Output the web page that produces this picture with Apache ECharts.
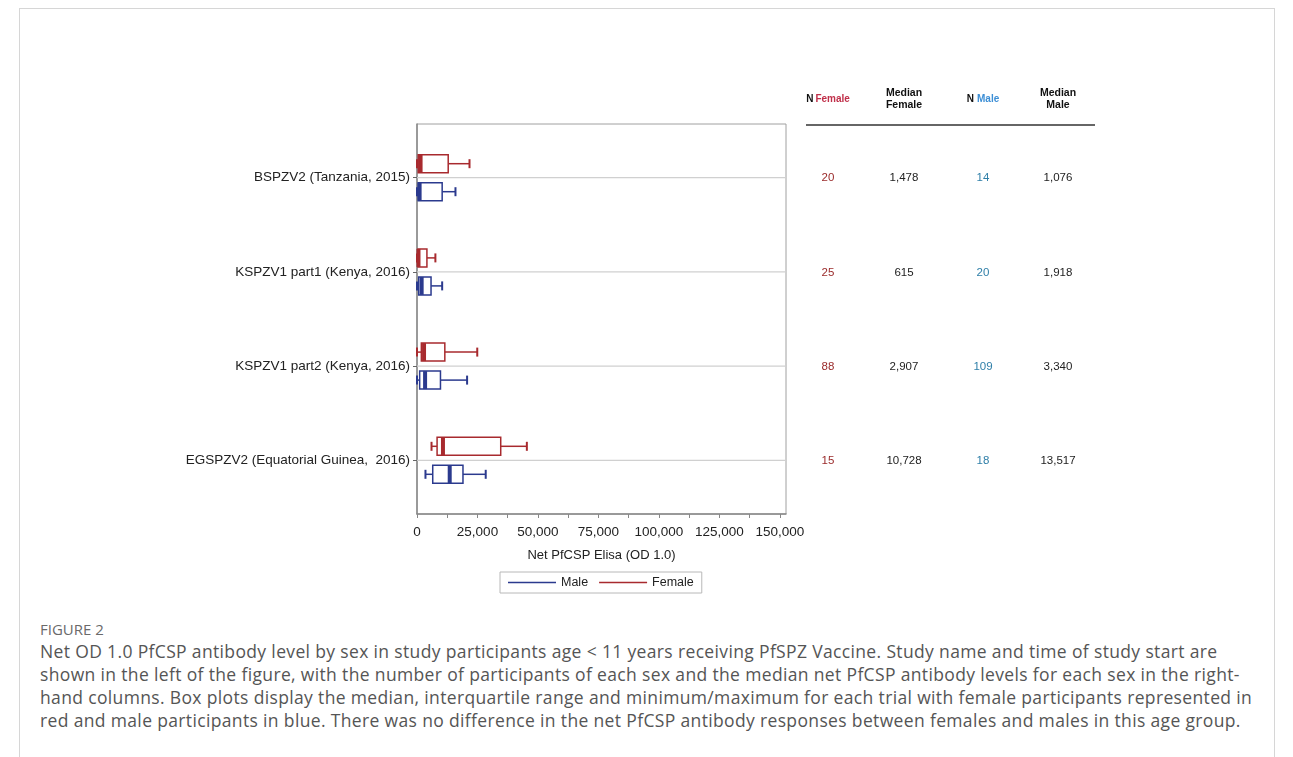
<!DOCTYPE html>
<html><head><meta charset="utf-8">
<script src="https://cdn.jsdelivr.net/npm/echarts@6/dist/echarts.min.js"></script>
<style>
html,body{margin:0;padding:0;background:#fff;width:1293px;height:757px;overflow:hidden;position:relative;}
#frame{position:absolute;left:19px;top:8px;width:1254px;height:800px;border:1px solid #d6d6d6;border-bottom:none;}
#chart{position:absolute;left:0;top:0;width:1293px;height:600px;}
.cap{position:absolute;left:40px;font-family:"Open Sans",sans-serif;color:#555;white-space:nowrap;}
</style></head><body>
<div id="frame"></div>
<div id="chart"></div>
<div class="cap" style="top:619px;font-size:15px;line-height:20px;color:#6a6a6a;">FIGURE 2</div>
<div class="cap" id="caption" style="top:640px;font-size:17.5px;line-height:23px;letter-spacing:0.35px;"></div>
<script>
const categories = ['BSPZV2 (Tanzania, 2015)', 'KSPZV1 part1 (Kenya, 2016)', 'KSPZV1 part2 (Kenya, 2016)', 'EGSPZV2 (Equatorial Guinea,  2016)'];
// [min, q1, median, q3, max]
const femaleBoxes = [[0, 500, 1478, 12900, 21700], [0, 400, 615, 4100, 7600], [0, 1800, 2907, 11500, 24900], [6000, 8300, 10728, 34600, 45400]];
const maleBoxes = [[0, 500, 1076, 10400, 15900], [0, 700, 1918, 5800, 10400], [0, 1100, 3340, 9700, 20700], [3500, 6500, 13517, 19000, 28400]];
const nFemale = [20, 25, 88, 15];
const medianFemale = [1478, 615, 2907, 10728];
const nMale = [14, 20, 109, 18];
const medianMale = [1076, 1918, 3340, 13517];
const xTickValues = [0, 12500, 25000, 37500, 50000, 62500, 75000, 87500, 100000, 112500, 125000, 137500, 150000];
const xLabelValues = [0, 25000, 50000, 75000, 100000, 125000, 150000];
const captionLines = [
  'Net OD 1.0 PfCSP antibody level by sex in study participants age < 11 years receiving PfSPZ Vaccine. Study name and time of study start are',
  'shown in the left of the figure, with the number of participants of each sex and the median net PfCSP antibody levels for each sex in the right-',
  'hand columns. Box plots display the median, interquartile range and minimum/maximum for each trial with female participants represented in',
  'red and male participants in blue. There was no difference in the net PfCSP antibody responses between females and males in this age group.'
];

document.getElementById('caption').innerHTML = captionLines.map(l => l.replace(/&/g,'&amp;').replace(/</g,'&lt;')).join('<br>');

const RED = '#a82a2e';
const BLUE = '#2b3a8e';
const fmt = v => Number(v).toLocaleString('en-US');

function makeRender(offset, color) {
  return function (params, api) {
    const yi = api.value(0);
    const yc = api.coord([0, yi])[1] + offset;
    const xs = [1, 2, 3, 4, 5].map(d => api.coord([api.value(d), yi])[0]);
    const xmin = xs[0], xq1 = xs[1], xmed = xs[2], xq3 = xs[3], xmax = xs[4];
    const h = 9, c = 4.5;
    const st = { stroke: color, lineWidth: 1.5, fill: null };
    return {
      type: 'group', children: [
        { type: 'line', shape: { x1: xmin, y1: yc, x2: xq1, y2: yc }, style: st },
        { type: 'line', shape: { x1: xq3, y1: yc, x2: xmax, y2: yc }, style: st },
        { type: 'line', shape: { x1: xmin, y1: yc - c, x2: xmin, y2: yc + c }, style: { stroke: color, lineWidth: 2 } },
        { type: 'line', shape: { x1: xmax, y1: yc - c, x2: xmax, y2: yc + c }, style: { stroke: color, lineWidth: 2 } },
        { type: 'rect', shape: { x: xq1, y: yc - h, width: xq3 - xq1, height: 2 * h }, style: { stroke: color, lineWidth: 1.5, fill: '#fff' } },
        { type: 'line', shape: { x1: xmed, y1: yc - h, x2: xmed, y2: yc + h }, style: { stroke: color, lineWidth: 4 } }
      ]
    };
  };
}

const chart = echarts.init(document.getElementById('chart'), null, { renderer: 'canvas' });
const FONT = '"Liberation Sans", Arial, sans-serif';

chart.setOption({
  animation: false,
  textStyle: { fontFamily: FONT },
  grid: { left: 417, right: 507, top: 124, bottom: 86, show: true, borderColor: '#a0a0a0', borderWidth: 1 },
  xAxis: {
    type: 'value', min: 0, max: 152500,
    name: 'Net PfCSP Elisa (OD 1.0)', nameLocation: 'middle', nameGap: 35,
    nameTextStyle: { fontSize: 13, color: '#222', fontFamily: FONT },
    axisLine: { show: true, onZero: false, lineStyle: { color: '#888', width: 1.5 } },
    axisTick: { show: true, length: 4, customValues: xTickValues, lineStyle: { color: '#888' } },
    axisLabel: { customValues: xLabelValues, formatter: v => fmt(v), fontSize: 13.5, color: '#222', margin: 11, fontFamily: FONT },
    splitLine: { show: false }
  },
  yAxis: {
    type: 'value', inverse: true, min: -0.57, max: 3.57,
    axisLine: { show: true, onZero: false, lineStyle: { color: '#888', width: 1.5 } },
    axisTick: { show: true, length: 4, customValues: [0, 1, 2, 3], lineStyle: { color: '#666' } },
    axisLabel: { customValues: [0, 1, 2, 3], formatter: v => categories[Math.round(v)], fontSize: 13.5, color: '#222', margin: 7, fontFamily: FONT },
    splitLine: { show: false }
  },
  legend: {
    data: ['Male', 'Female'], left: 500, top: 572, orient: 'horizontal',
    icon: 'rect', itemWidth: 48, itemHeight: 1.5, itemGap: 11,
    borderColor: '#b8b8b8', borderWidth: 1, padding: [4, 8],
    textStyle: { fontSize: 12.5, color: '#222', fontFamily: FONT }
  },
  series: [
    {
      type: 'custom', name: 'gridlines', silent: true, z: 1,
      data: categories.map((c, i) => [0, i]), encode: { x: 0, y: 1 },
      renderItem: function (params, api) {
        const y = api.coord([0, api.value(1)])[1];
        const cs = params.coordSys;
        return { type: 'line', shape: { x1: cs.x, y1: y, x2: cs.x + cs.width, y2: y }, style: { stroke: '#d0d0d0', lineWidth: 1.2 } };
      }
    },
    {
      type: 'custom', name: 'Female', z: 3, itemStyle: { color: RED },
      data: femaleBoxes.map((b, i) => [i].concat(b)), encode: { x: [1, 2, 3, 4, 5], y: 0 },
      renderItem: makeRender(-14, RED)
    },
    {
      type: 'custom', name: 'Male', z: 3, itemStyle: { color: BLUE },
      data: maleBoxes.map((b, i) => [i].concat(b)), encode: { x: [1, 2, 3, 4, 5], y: 0 },
      renderItem: makeRender(14, BLUE)
    }
  ]
});

// Right-hand table
const colX = [828, 904, 983, 1058];
const TFONT = '"Liberation Sans", Arial, sans-serif';
const graphics = [];
const hdrY = 99;
graphics.push({ type: 'text', x: colX[0], y: hdrY, style: { text: '{k|N}{f|Female}', align: 'center', verticalAlign: 'middle',
  rich: { k: { fontSize: 10, fontWeight: 'bold', fill: '#111', fontFamily: TFONT, padding: [0, 2, 0, 0] }, f: { fontSize: 10, fontWeight: 'bold', fill: '#c0304a', fontFamily: TFONT } } } });
graphics.push({ type: 'text', x: colX[1], y: hdrY, style: { text: 'Median\nFemale', align: 'center', verticalAlign: 'middle', fontSize: 10.5, fontWeight: 'bold', lineHeight: 12, fill: '#111', fontFamily: TFONT } });
graphics.push({ type: 'text', x: colX[2], y: hdrY, style: { text: '{k|N}{f|Male}', align: 'center', verticalAlign: 'middle',
  rich: { k: { fontSize: 10, fontWeight: 'bold', fill: '#111', fontFamily: TFONT, padding: [0, 3, 0, 0] }, f: { fontSize: 10, fontWeight: 'bold', fill: '#3d8fd6', fontFamily: TFONT } } } });
graphics.push({ type: 'text', x: colX[3], y: hdrY, style: { text: 'Median\nMale', align: 'center', verticalAlign: 'middle', fontSize: 10.5, fontWeight: 'bold', lineHeight: 12, fill: '#111', fontFamily: TFONT } });
graphics.push({ type: 'line', shape: { x1: 806, y1: 125, x2: 1095, y2: 125 }, style: { stroke: '#333', lineWidth: 1.5 } });

categories.forEach((c, i) => {
  const y = chart.convertToPixel({ yAxisIndex: 0 }, i) + 0.5;
  const cells = [[String(nFemale[i]), '#9a2a2a'], [fmt(medianFemale[i]), '#222'], [String(nMale[i]), '#2f7fa8'], [fmt(medianMale[i]), '#222']];
  cells.forEach((cell, j) => {
    graphics.push({ type: 'text', x: colX[j], y: y, style: { text: cell[0], fill: cell[1], align: 'center', verticalAlign: 'middle', fontSize: 11.5, fontFamily: TFONT } });
  });
});
chart.setOption({ graphic: graphics });
</script>
</body></html>
